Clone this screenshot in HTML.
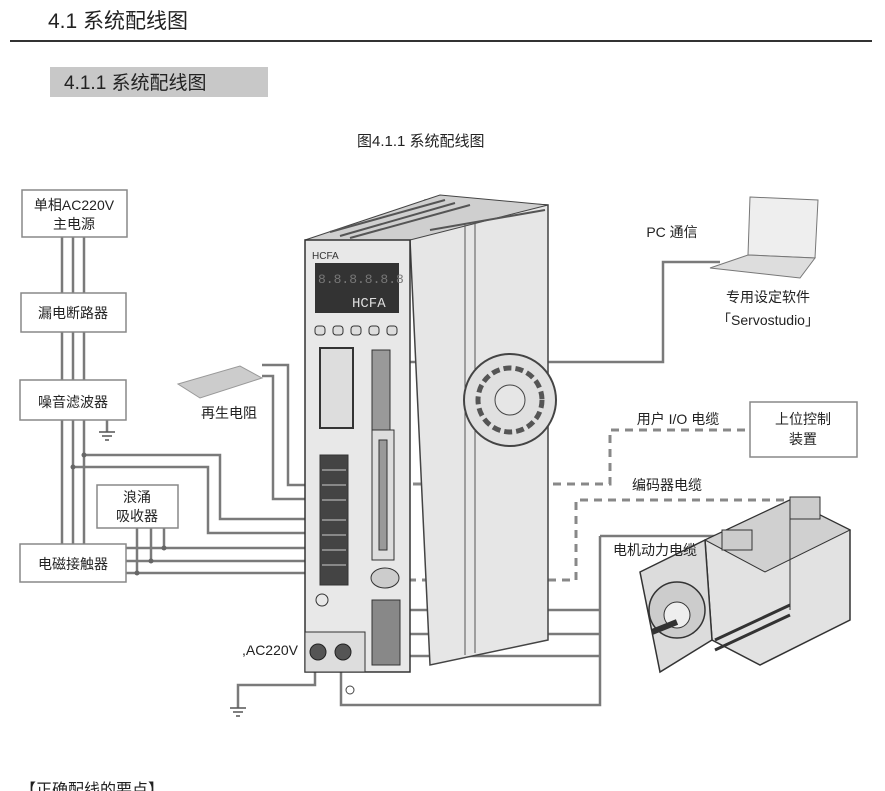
<!DOCTYPE html>
<html><head><meta charset="utf-8"><style>
html,body{margin:0;padding:0;background:#fff;}
svg{display:block;font-family:"Liberation Sans","Noto Sans CJK SC",sans-serif;}
</style></head><body>
<svg width="885" height="791" viewBox="0 0 885 791" xmlns="http://www.w3.org/2000/svg">
<text x="48" y="28" font-size="21" fill="#222">4.1 系统配线图</text>
<rect x="10" y="40" width="862" height="2" fill="#333"/>
<rect x="50" y="67" width="218" height="30" fill="#c8c8c8"/>
<text x="64" y="89" font-size="19" fill="#222">4.1.1 系统配线图</text>
<text x="357" y="146" font-size="15" fill="#222">图4.1.1 系统配线图</text>

<g fill="none" stroke="#7a7a7a" stroke-width="2.5">
<path d="M62 237V544M73 237V544M84 237V544"/>
<path d="M84 455H220V519H322M73 467H208V533H322"/>
<path d="M126 548H322M126 561H322M126 573H322"/>
<path d="M164 528V548M151 528V561M137 528V573"/>
<path d="M262 365H288V485H322M262 376H273V499H322"/>
<path d="M383 362H663V262H720"/>
<path d="M398 610H600M398 634H600M398 656H600M600 536V705H341V660M600 536H742"/>
<path d="M315 660V685H238V708"/>
<path d="M107 420V432"/>
</g>
<g fill="none" stroke="#888" stroke-width="3" stroke-dasharray="8,6">
<path d="M385 484H610V430H750"/>
<path d="M380 580H576V500H790"/>
</g>
<g fill="#666"><circle cx="84" cy="455" r="2.5"/><circle cx="73" cy="467" r="2.5"/><circle cx="164" cy="548" r="2.5"/><circle cx="151" cy="561" r="2.5"/><circle cx="137" cy="573" r="2.5"/></g>
<g stroke="#555" stroke-width="1.5"><path d="M99 432H115M102 436H112M105 440H109"/><path d="M230 708H246M233 712H243M236 716H240"/></g>
<circle cx="92" cy="388" r="4" fill="none" stroke="#444"/><circle cx="350" cy="690" r="4" fill="none" stroke="#444"/>

<g fill="#fff" stroke="#888" stroke-width="1.5">
<rect x="22" y="190" width="105" height="47"/>
<rect x="21" y="293" width="105" height="39"/>
<rect x="20" y="380" width="106" height="40"/>
<rect x="97" y="485" width="81" height="43"/>
<rect x="20" y="544" width="106" height="38"/>
<rect x="750" y="402" width="107" height="55"/>
</g>
<g font-size="14" fill="#222" text-anchor="middle">
<text x="74" y="210">单相AC220V</text><text x="74" y="229">主电源</text>
<text x="73" y="318">漏电断路器</text>
<text x="73" y="407">噪音滤波器</text>
<text x="137" y="502">浪涌</text><text x="137" y="521">吸收器</text>
<text x="73" y="569">电磁接触器</text>
<text x="803" y="424">上位控制</text><text x="803" y="444">装置</text>
<text x="229" y="418">再生电阻</text>
<text x="672" y="237">PC 通信</text>
<text x="768" y="302">专用设定软件</text><text x="768" y="325">「Servostudio」</text>
<text x="678" y="424">用户  I/O 电缆</text>
<text x="667" y="490">编码器电缆</text>
<text x="270" y="655">,AC220V</text>
</g>
<path d="M178 384L240 366L262 378L200 398Z" fill="#ccc" stroke="#999"/>

<!-- driver side -->
<path d="M410 240L425 200L548 205V640L430 665Z" fill="#e6e6e6" stroke="#444" stroke-width="1.5"/>
<path d="M305 240L425 200L440 195L548 205L410 240Z" fill="#cfcfcf" stroke="#444"/>
<g stroke="#555" stroke-width="2"><path d="M330 232L445 200M340 236L455 203M350 238L470 205M430 230L545 210"/></g>
<path d="M465 225V655M475 222V653" stroke="#555"/>
<circle cx="510" cy="400" r="46" fill="#e0e0e0" stroke="#444" stroke-width="2"/>
<circle cx="510" cy="400" r="32" fill="none" stroke="#555" stroke-width="5" stroke-dasharray="8,4"/>
<circle cx="510" cy="400" r="15" fill="#e6e6e6" stroke="#444"/>
<!-- driver front -->
<rect x="305" y="240" width="105" height="432" fill="#e8e8e8" stroke="#333" stroke-width="1.5"/>
<text x="312" y="259" font-size="10" fill="#333">HCFA</text>
<rect x="315" y="263" width="84" height="50" fill="#333"/>
<text x="318" y="283" font-size="13" fill="#777" font-family="Liberation Mono,monospace">8.8.8.8.8.8</text>
<text x="352" y="307" font-size="14" fill="#ddd" font-family="Liberation Mono,monospace">HCFA</text>
<g fill="#ddd" stroke="#333"><rect x="315" y="326" width="10" height="9" rx="3"/><rect x="333" y="326" width="10" height="9" rx="3"/><rect x="351" y="326" width="10" height="9" rx="3"/><rect x="369" y="326" width="10" height="9" rx="3"/><rect x="387" y="326" width="10" height="9" rx="3"/></g>
<rect x="320" y="348" width="33" height="80" fill="#ddd" stroke="#333" stroke-width="2"/>
<rect x="372" y="350" width="18" height="80" fill="#999" stroke="#333"/>
<rect x="372" y="430" width="22" height="130" fill="#ddd" stroke="#333"/>
<rect x="379" y="440" width="8" height="110" fill="#999" stroke="#333"/>
<rect x="320" y="455" width="28" height="130" fill="#444" stroke="#333"/>
<g stroke="#ccc"><path d="M322 470H346M322 485H346M322 500H346M322 520H346M322 535H346M322 550H346M322 565H346"/></g>
<rect x="372" y="600" width="28" height="65" fill="#888" stroke="#333"/>
<ellipse cx="385" cy="578" rx="14" ry="10" fill="#ccc" stroke="#333"/>
<circle cx="322" cy="600" r="6" fill="none" stroke="#333"/>
<rect x="305" y="632" width="60" height="40" fill="#ddd" stroke="#333"/>
<circle cx="318" cy="652" r="8" fill="#555" stroke="#222"/><circle cx="343" cy="652" r="8" fill="#555" stroke="#222"/>

<!-- laptop -->
<path d="M750 197L818 200L815 258L748 255Z" fill="#eee" stroke="#777"/>
<path d="M748 255L815 258L800 278L710 268Z" fill="#ddd" stroke="#777"/>

<!-- motor -->
<path d="M705 540L790 500L850 530L850 620L760 665L712 640Z" fill="#e2e2e2" stroke="#333" stroke-width="1.5"/>
<path d="M705 540L790 500L850 530L765 572Z" fill="#d0d0d0" stroke="#333"/>
<path d="M790 510V610" stroke="#333"/>
<path d="M640 572L705 540L712 640L660 672Z" fill="#dcdcdc" stroke="#333" stroke-width="1.5"/>
<circle cx="677" cy="610" r="28" fill="#ccc" stroke="#333" stroke-width="1.5"/>
<circle cx="677" cy="615" r="13" fill="#eee" stroke="#333"/>
<path d="M652 632L677 622" stroke="#333" stroke-width="6"/>
<rect x="790" y="497" width="30" height="22" fill="#ccc" stroke="#333"/>
<rect x="722" y="530" width="30" height="20" fill="#ccc" stroke="#333"/>
<path d="M715 640L790 605M715 650L790 615" stroke="#333" stroke-width="3"/>
<text x="655" y="555" font-size="14" fill="#222" text-anchor="middle">电机动力电缆</text>

<text x="20" y="795" font-size="16" fill="#222">【正确配线的要点】</text>
</svg>
</body></html>
